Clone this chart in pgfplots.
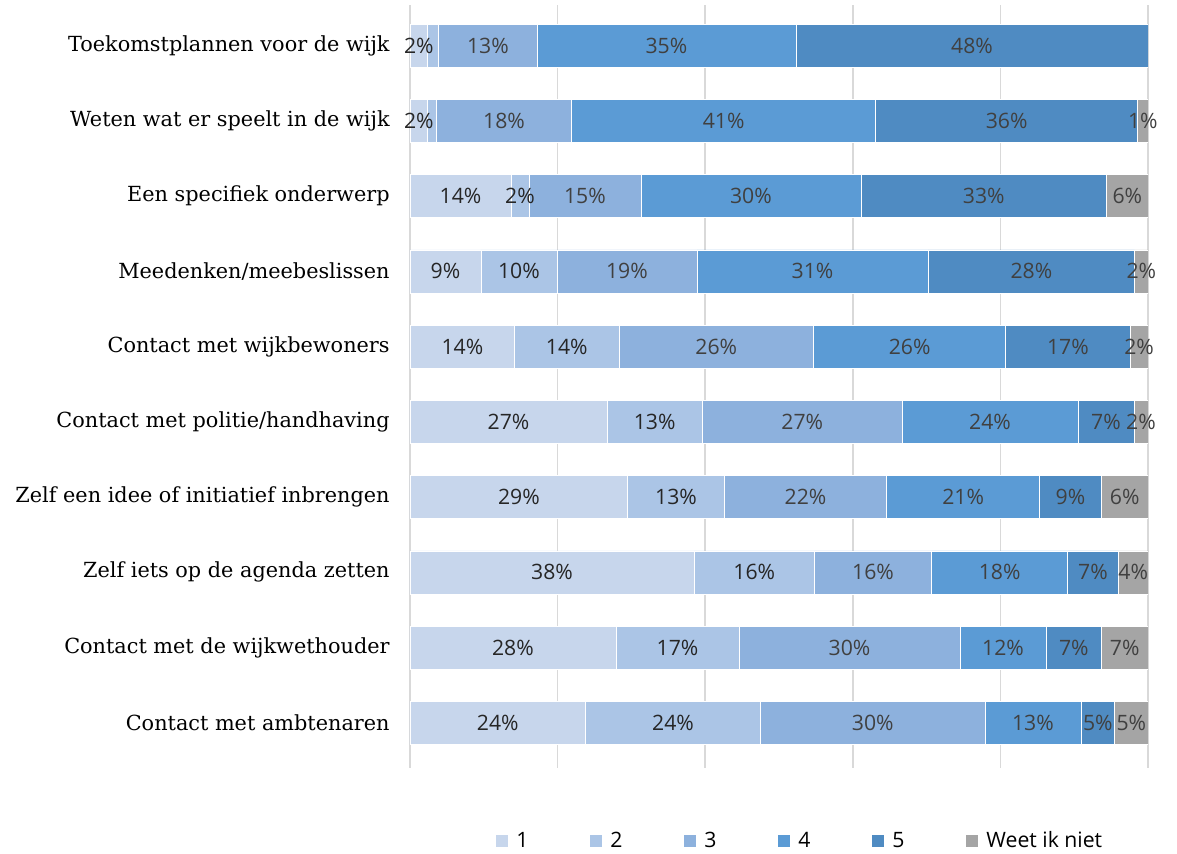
\documentclass[border=0pt]{standalone}
\usepackage{pgfplots}
\pgfplotsset{compat=1.18}
\usepackage{fontspec}
\setmainfont{DejaVu Serif}
\newfontfamily\labfont{Open Sans}
\usetikzlibrary{calc}
\definecolor{c1}{RGB}{199,214,236}
\definecolor{c2}{RGB}{171,197,230}
\definecolor{c3}{RGB}{141,177,221}
\definecolor{c4}{RGB}{91,155,213}
\definecolor{c5}{RGB}{79,139,194}
\definecolor{c6}{RGB}{165,165,165}
\definecolor{gridc}{RGB}{217,217,217}
\definecolor{darktxt}{RGB}{38,38,38}
\definecolor{midtxt}{RGB}{64,64,64}
\pgfplotsset{sq legend/.style={legend image code/.code={\fill[##1,draw=none] (0pt,-3pt) rectangle (6pt,3pt);}}}
\begin{document}
\begin{tikzpicture}
\begin{axis}[
  xbar stacked,
  scale only axis,
  width=369pt, height=381.5pt,
  xmin=0, xmax=100,
  ymin=-0.54, ymax=9.6,
  y dir=reverse,
  bar width=21.5pt,
  axis line style={draw=none},
  major tick length=0pt,
  xtick={0,20,40,60,80,100}, xticklabels={},
  xmajorgrids, grid style={draw=gridc, line width=0.75pt},
  ytick={0,...,9},
  yticklabels={Toekomstplannen voor de wijk, Weten wat er speelt in de wijk, Een specifiek onderwerp, Meedenken/meebeslissen\ , Contact met wijkbewoners, Contact met politie/handhaving, Zelf een idee of initiatief inbrengen, Zelf iets op de agenda zetten, Contact met de wijkwethouder, Contact met ambtenaren},
  yticklabel style={font=\fontsize{10.4}{12}\selectfont, inner sep=0pt, xshift=-10pt},
  point meta=explicit symbolic,
  nodes near coords,
  every node near coord/.append style={anchor=center, font=\labfont\fontsize{10.6}{12}\selectfont, inner sep=0pt},
  legend columns=6,
  legend style={at={(axis description cs:0.5275,-0.096)}, anchor=center, draw=none, fill=none, font=\labfont\fontsize{10.6}{12}\selectfont, nodes={inner sep=0pt}, /tikz/every even column/.append style={column sep=0pt}},
]
\addplot[fill=c1, draw=white, line width=0.3pt, sq legend, every node near coord/.append style={text=darktxt}] coordinates {
(2.4,0)[2\%] (2.4,1)[2\%] (13.7,2)[14\%] (9.6,3)[9\%] (14.2,4)[14\%] (26.7,5)[27\%] (29.5,6)[29\%] (38.5,7)[38\%] (27.9,8)[28\%] (23.8,9)[24\%]};
\addlegendentry{\hspace{4pt}\makebox[37pt][l]{1}}
\addplot[fill=c2, draw=white, line width=0.3pt, sq legend, every node near coord/.append style={text=darktxt}] coordinates {
(1.5,0)[{}] (1.2,1)[{}] (2.4,2)[2\%] (10.3,3)[10\%] (14.1,4)[14\%] (12.9,5)[13\%] (13.1,6)[13\%] (16.3,7)[16\%] (16.7,8)[17\%] (23.7,9)[24\%]};
\addlegendentry{\hspace{4pt}\makebox[37pt][l]{2}}
\addplot[fill=c3, draw=white, line width=0.3pt, sq legend, every node near coord/.append style={text=midtxt}] coordinates {
(13.3,0)[13\%] (18.3,1)[18\%] (15.2,2)[15\%] (19.0,3)[19\%] (26.4,4)[26\%] (27.1,5)[27\%] (22.0,6)[22\%] (15.9,7)[16\%] (29.9,8)[30\%] (30.4,9)[30\%]};
\addlegendentry{\hspace{4pt}\makebox[37pt][l]{3}}
\addplot[fill=c4, draw=white, line width=0.3pt, sq legend, every node near coord/.append style={text=midtxt}] coordinates {
(35.1,0)[35\%] (41.2,1)[41\%] (29.8,2)[30\%] (31.3,3)[31\%] (26.0,4)[26\%] (23.8,5)[24\%] (20.7,6)[21\%] (18.4,7)[18\%] (11.7,8)[12\%] (13.0,9)[13\%]};
\addlegendentry{\hspace{4pt}\makebox[37pt][l]{4}}
\addplot[fill=c5, draw=white, line width=0.3pt, sq legend, every node near coord/.append style={text=midtxt}] coordinates {
(47.7,0)[48\%] (35.5,1)[36\%] (33.3,2)[33\%] (28.0,3)[28\%] (16.9,4)[17\%] (7.6,5)[7\%] (8.4,6)[9\%] (6.9,7)[7\%] (7.5,8)[7\%] (4.6,9)[5\%]};
\addlegendentry{\hspace{4pt}\makebox[37pt][l]{5}}
\addplot[fill=c6, draw=white, line width=0.3pt, sq legend, every node near coord/.append style={text=midtxt}] coordinates {
(0,0)[{}] (1.4,1)[1\%] (5.6,2)[6\%] (1.8,3)[2\%] (2.4,4)[2\%] (1.9,5)[2\%] (6.3,6)[6\%] (4.0,7)[4\%] (6.3,8)[7\%] (4.5,9)[5\%]};
\addlegendentry{\hspace{4pt}Weet ik niet}
\coordinate (O) at (axis description cs:0,0);
\end{axis}
\pgfresetboundingbox
\path[use as bounding box] ($(O)+(-205pt,-42.5pt)$) rectangle ($(O)+(383.5pt,384pt)$);
\end{tikzpicture}
\end{document}
